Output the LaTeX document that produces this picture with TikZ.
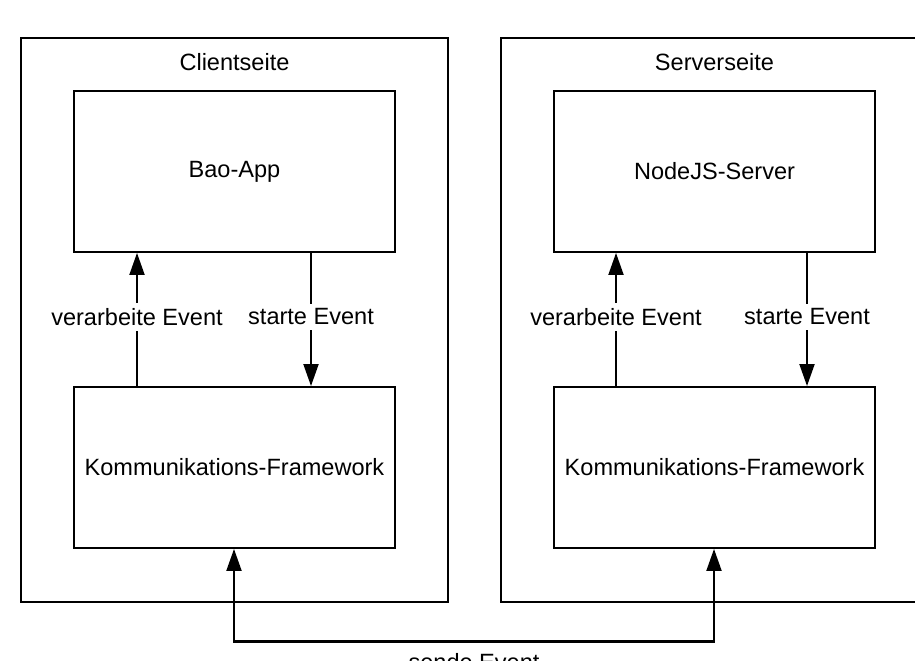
\documentclass[tikz,border=0pt]{standalone}
\usepackage{fontspec}
\setmainfont{Liberation Sans}
\usetikzlibrary{arrows.meta}
\begin{document}
\begin{tikzpicture}[x=0.02cm,y=-0.02cm,font=\fontsize{13.4}{16}\selectfont]
	\tikzstyle{side} = [draw=black, line width=1.1pt, minimum width=8.54cm, minimum height=11.28cm, inner sep=0pt]
	\tikzstyle{box} = [draw=black, line width=1.1pt, minimum width=6.42cm, minimum height=3.22cm, inner sep=0pt]
	\tikzstyle{lbl} = [fill=white, inner sep=3pt]
	\tikzstyle{edge} = [draw=black, line width=1.1pt, -{Triangle[length=0.44cm,width=0.3cm]}]
	\tikzstyle{twoway} = [draw=black, line width=1.15pt, {Triangle[length=0.44cm,width=0.3cm]}-{Triangle[length=0.44cm,width=0.3cm]}]
	\clip (0,0) rectangle (915,661);
		\node[side] (client) at (234.5,320) {};
		\node[side] (server) at (714.5,320) {};
		\node[] (ctitle) at (234.5,62) {Clientseite};
		\node[] (stitle) at (714.5,62) {Serverseite};
		\node[box] (bao) at (234.5,171.5) {Bao-App};
		\node[box] (kfc) at (234.5,467.5) {Kommunikations-Framework};
		\node[box] (node) at (714.5,171.5) {NodeJS-Server};
		\node[box] (kfs) at (714.5,467.5) {Kommunikations-Framework};
		\coordinate (cin) at (137,317);
		\coordinate (cout) at (311,317);
		\coordinate (sin) at (616,317);
		\coordinate (sout) at (807,317);
		\coordinate (busl) at (234,641.5);
		\coordinate (busr) at (714,641.5);
	\draw[edge] (kfc.north -| cin) -- (bao.south -| cin);
	\draw[edge] (bao.south -| cout) -- (kfc.north -| cout);
	\draw[edge] (kfs.north -| sin) -- (node.south -| sin);
	\draw[edge] (node.south -| sout) -- (kfs.north -| sout);
	\draw[twoway] (kfc.south -| busl) -- (busl) -- (busr) -- (kfs.south -| busr);
		\node[lbl] (cverarb) at (cin) {verarbeite Event};
		\node[lbl] (cstart) at (cout) {starte Event};
		\node[lbl] (sverarb) at (sin) {verarbeite Event};
		\node[lbl] (sstart) at (sout) {starte Event};
		\node[anchor=base] (sende) at (474,670) {sende Event};
	\end{tikzpicture}
\end{document}
